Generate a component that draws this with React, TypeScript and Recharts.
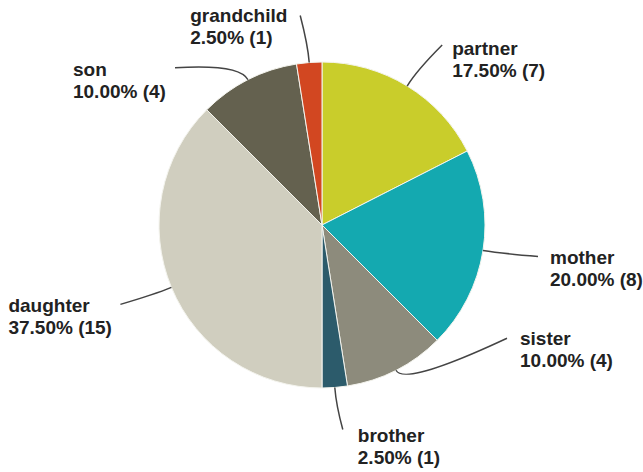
import React from 'react';
import { Cell, Pie, PieChart } from 'recharts';

// relation of respondent, counted answers
const relations = ['partner', 'mother', 'sister', 'brother', 'daughter', 'son', 'grandchild'];
const counts = [7, 8, 4, 1, 15, 4, 1];
const sliceColors = ['#c9cd2b', '#14a9b0', '#8d8b7c', '#2c5b6b', '#d0cebf', '#64614f', '#d24721'];

const total = counts.reduce((a, b) => a + b, 0);
const pieData = relations.map((name, i) => ({ name, value: counts[i] }));

// where each label sits relative to its slice's outer edge (text / end of leader line)
const labelLayout: Record<string, { tx: number; ty: number; ex: number; ey: number }> = {
  partner: { tx: 45, ty: -31, ex: 35, ey: -41 },
  mother: { tx: 67, ty: 14, ex: 55, ey: 6 },
  sister: { tx: 124, ty: -25, ex: 111, ey: -32 },
  brother: { tx: 23, ty: 55, ex: 8, ey: 42 },
  daughter: { tx: -163, ty: 25, ex: -51, ey: 17 },
  son: { tx: -175, ty: -4, ex: -73, ey: -12 },
  grandchild: { tx: -119, ty: -41, ex: -9, ey: -47 },
};

const RADIAN = Math.PI / 180;

const renderLabel = (props: any) => {
  const { cx, cy, midAngle, outerRadius, name, value } = props;
  const cos = Math.cos(-midAngle * RADIAN);
  const sin = Math.sin(-midAngle * RADIAN);
  const sx = cx + outerRadius * cos;
  const sy = cy + outerRadius * sin;
  const qx = cx + (outerRadius + 18) * cos;
  const qy = cy + (outerRadius + 18) * sin;
  const l = labelLayout[name];
  const ex = sx + l.ex;
  const ey = sy + l.ey;
  const pct = ((value / total) * 100).toFixed(2);
  return (
    <g>
      <path d={`M${sx},${sy} Q${qx},${qy} ${ex},${ey}`} stroke="#444" strokeWidth={1.5} fill="none" />
      <text
        x={sx + l.tx}
        y={sy + l.ty}
        fill="#222"
        fontFamily="'Liberation Sans', Arial, sans-serif"
        fontWeight="bold"
        fontSize={19}
        textAnchor="start"
      >
        <tspan x={sx + l.tx}>{name}</tspan>
        <tspan x={sx + l.tx} dy={22}>{`${pct}% (${value})`}</tspan>
      </text>
    </g>
  );
};

const App: React.FC = () => {
  return (
    <div style={{ position: 'absolute', left: 0, top: 0, background: '#fff' }}>
      <PieChart width={643} height={472} margin={{ top: 0, right: 0, bottom: 0, left: 0 }}>
        <Pie
          data={pieData}
          dataKey="value"
          nameKey="name"
          cx={322}
          cy={225}
          outerRadius={163}
          startAngle={90}
          endAngle={-270}
          stroke="#f4f4ee"
          strokeWidth={1}
          label={renderLabel}
          labelLine={false}
          isAnimationActive={false}
        >
          {pieData.map((entry, index) => (
            <Cell key={`cell-${index}`} fill={sliceColors[index]} />
          ))}
        </Pie>
      </PieChart>
    </div>
  );
};

export default App;
